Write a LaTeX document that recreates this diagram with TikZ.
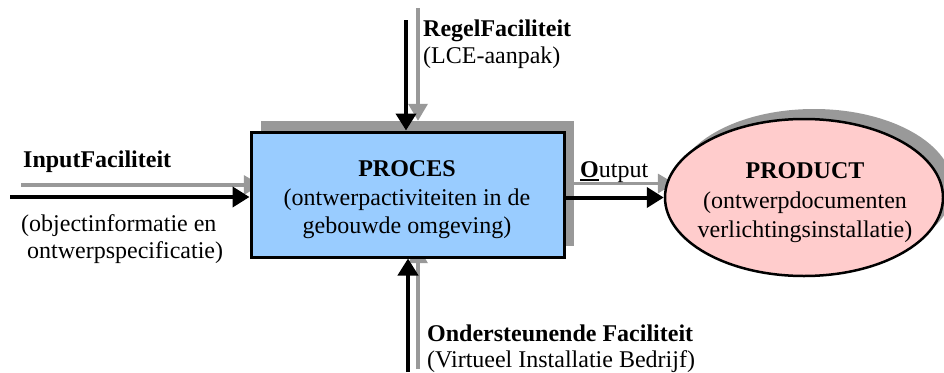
\documentclass[tikz,border=0pt]{standalone}
\usepackage{fontspec}
\setmainfont{Liberation Serif}
\usetikzlibrary{arrows.meta,shapes.geometric}
\definecolor{shgray}{HTML}{999999}
\definecolor{procblue}{HTML}{99CCFF}
\definecolor{prodpink}{HTML}{FFCCCC}
\begin{document}
\begin{tikzpicture}[x=1pt,y=-1pt,
  lbl/.style={font=\fontsize{24}{28}\selectfont, inner sep=0pt, anchor=base west},
  ctr/.style={font=\fontsize{24}{28}\selectfont, inner sep=0pt, anchor=base},
  graybar/.style={draw=shgray, line width=3.5pt, -{Triangle[length=17pt,width=19pt]}},
  blackbar/.style={draw=black, line width=4pt, -{Triangle[length=17pt,width=20pt]}},
  procbox/.style={rectangle, draw=black, line width=3pt, fill=procblue, minimum width=313pt, minimum height=125pt, inner sep=0pt},
  procsh/.style={rectangle, fill=shgray, minimum width=313pt, minimum height=125pt, inner sep=0pt},
  prodell/.style={ellipse, draw=black, line width=2.5pt, fill=prodpink, minimum width=278pt, minimum height=157pt, inner sep=0pt},
  prodsh/.style={ellipse, fill=shgray, minimum width=278pt, minimum height=157pt, inner sep=0pt},
]
\useasboundingbox (0,0) rectangle (944,372);
\clip (0,0) rectangle (944,372);
% shadows
\node[procsh] (psh) at (417.5,183.5) {};
\node[prodsh] (prsh) at (814,187.5) {};
% gray (shadow) arrows
\coordinate (inG) at (21,185);
\coordinate (topG) at (418,8);
\coordinate (botG) at (418,369);
\draw[graybar] (inG) -- (inG -| psh.west);
\draw[graybar] (topG) -- (topG |- psh.north);
\draw[graybar] (botG) -- (botG |- psh.south);
\draw[graybar] (psh.east) -- (psh.east -| prsh.west);
% main shapes
\node[procbox] (proc) at (407.5,194.5) {};
\node[prodell] (prod) at (804,197.5) {};
% black arrows
\coordinate (inB) at (10,197);
\coordinate (topB) at (406,20);
\coordinate (botB) at (408,372);
\draw[blackbar] (inB) -- (inB -| proc.west);
\draw[blackbar] (topB) -- (topB |- proc.north);
\draw[blackbar] (botB) -- (botB |- proc.south);
\draw[blackbar] (proc.east |- prod.west) -- (prod.west);
% texts
\node[lbl] (inT) at (23,167) {\textbf{InputFaciliteit}};
\node[lbl] (inD1) at (21,231) {(objectinformatie en};
\node[lbl] (inD2) at (27,258) {ontwerpspecificatie)};
\node[lbl] (regT) at (423,36) {\textbf{RegelFaciliteit}};
\node[lbl] (regD) at (423,63) {(LCE-aanpak)};
\node[lbl] (ondT) at (427,341) {\textbf{Ondersteunende Faciliteit}};
\node[lbl] (ondD) at (427,367) {(Virtueel Installatie Bedrijf)};
\node[lbl] (outT) at (580,177) {\makebox[0pt][l]{\rule[-4pt]{18.5pt}{2pt}}\textbf{O}utput};
\node[ctr] (pr1) at (407,176) {\textbf{PROCES}};
\node[ctr] (pr2) at (407,205) {(ontwerpactiviteiten in de};
\node[ctr] (pr3) at (407,233) {gebouwde omgeving)};
\node[ctr] (pd1) at (805,178) {\textbf{PRODUCT}};
\node[ctr] (pd2) at (805,208) {(ontwerpdocumenten};
\node[ctr] (pd3) at (805,237) {verlichtingsinstallatie)};
\end{tikzpicture}
\end{document}
